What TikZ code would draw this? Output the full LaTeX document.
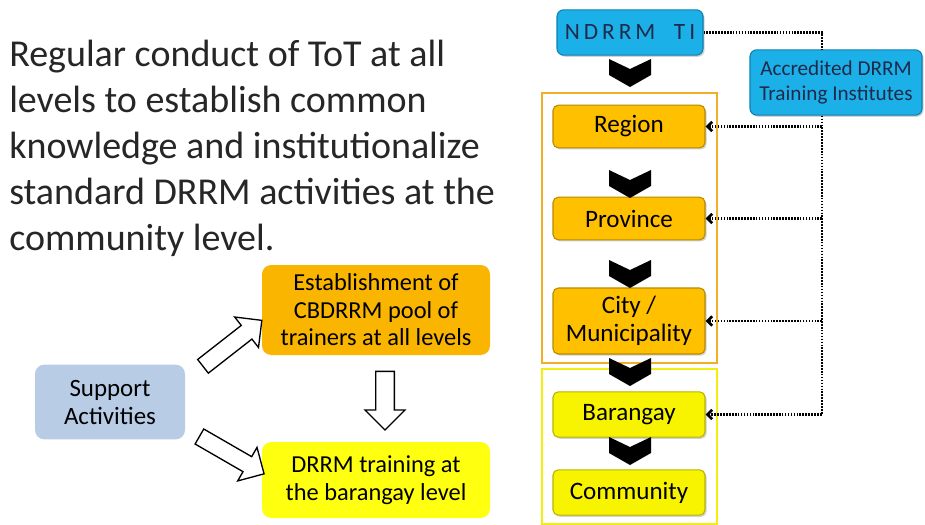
\documentclass[tikz,border=0pt]{standalone}
\usepackage{fontspec}
\setmainfont{Carlito}
\usetikzlibrary{shapes.arrows,arrows.meta,shadows,calc}
\definecolor{tblue}{HTML}{1CB0E8}
\definecolor{tblueD}{HTML}{0E7FAE}
\definecolor{navy}{HTML}{1F2A4A}
\definecolor{lorange}{HTML}{FFC000}
\definecolor{lorangeD}{HTML}{B88A00}
\definecolor{estorange}{HTML}{F9B500}
\definecolor{lyellow}{HTML}{F8F400}
\definecolor{lyellowD}{HTML}{B8B400}
\definecolor{tyellow}{HTML}{FFFF10}
\definecolor{supblue}{HTML}{B8CCE6}
\definecolor{frameO}{HTML}{F2B02A}
\definecolor{frameY}{HTML}{F2EE10}
\definecolor{txt}{HTML}{262626}
\tikzset{
  lvl/.style={draw=lorangeD, line width=0.8pt, fill=lorange, rounded corners=4pt,
    minimum width=114pt, align=center, font=\fontsize{18.8}{21}\selectfont, text=black,
    drop shadow={shadow xshift=1.2pt, shadow yshift=-1.2pt, opacity=0.35}},
  lvly/.style={lvl, draw=lyellowD, fill=lyellow},
  bluebox/.style={draw=tblueD, line width=0.8pt, fill=tblue, rounded corners=5pt, align=center,
    text=navy, drop shadow={shadow xshift=1.2pt, shadow yshift=-1.2pt, opacity=0.35}},
  sbox/.style={rounded corners=7pt, align=center, text=black, font=\fontsize{18.3}{20.6}\selectfont},
  barrow/.style={single arrow, draw=black, line width=1pt, fill=white,
    single arrow head extend=8pt, inner sep=0pt},
  dotline/.style={line width=2pt, dash pattern=on 1.2pt off 1pt, draw=black},
  chev/.pic={\fill[black] (-21,0) -- (0,10) -- (21,0) -- (21,16) -- (0,28) -- (-21,16) -- cycle;}
}
\begin{document}
\begin{tikzpicture}[x=0.75pt,y=-0.75pt]
\useasboundingbox (0,0) rectangle (925,525);
\fill[white] (0,0) rectangle (925,525);

% left text
\node[anchor=north west, inner sep=0pt, align=left, text=txt,
  font=\fontsize{28.5}{34.4}\selectfont] (intro) at (9,40)
  {Regular conduct of ToT at all\\levels to establish common\\knowledge and institutionalize\\standard DRRM activities at the\\community level.};

% frames
\draw[frameO, line width=1.3pt] (542,93) rectangle (717,363);
\draw[frameY, line width=1.3pt] (542,369) rectangle (717,524);

% level boxes
\node[bluebox, minimum width=109.5pt, minimum height=34pt,
  font=\fontsize{17.5}{20}\selectfont\addfontfeature{LetterSpace=17}] (nd) at (630,32.5) {NDRRM\ \ TI};
\node[lvl, minimum height=32pt] (reg) at (629,126.5) {Region};
\node[lvl, minimum height=32pt] (prov) at (629,218.5) {Province};
\node[lvl, minimum height=49.5pt] (city) at (629,321) {City /\\Municipality};
\node[lvly, minimum height=34pt] (bar) at (629,414.5) {Barangay};
\node[lvly, minimum height=34pt] (com) at (629,492.5) {Community};

% chevrons
\pic at (630,59) {chev};
\pic at (630,170) {chev};
\pic at (630,260) {chev};
\pic at (630,358) {chev};
\pic at (630,437) {chev};

% accredited
\node[bluebox, minimum width=129pt, minimum height=49pt,
  font=\fontsize{15.9}{19}\selectfont] (acc) at (836,82.5) {Accredited DRRM\\Training Institutes};

% dotted connectors
\coordinate (bx) at (822,0);
\draw[dotline] (nd.east) -| (bx |- acc.north);
\draw[dotline, -{Straight Barb[length=3.5pt,width=7pt]}] (bx |- acc.south) |- (bar.east);
\draw[dotline, -{Straight Barb[length=3.5pt,width=7pt]}] (bx |- reg.east) -- (reg.east);
\draw[dotline, -{Straight Barb[length=3.5pt,width=7pt]}] (bx |- prov.east) -- (prov.east);
\draw[dotline, -{Straight Barb[length=3.5pt,width=7pt]}] (bx |- city.east) -- (city.east);

% support activities
\node[sbox, fill=estorange, minimum width=171pt, minimum height=67.5pt] (est) at (376,310)
  {Establishment of\\CBDRRM pool of\\trainers at all levels};
\node[sbox, fill=tyellow, minimum width=171pt, minimum height=57pt] (trn) at (376,480)
  {DRRM training at\\the barangay level};
\node[sbox, fill=supblue, minimum width=112.5pt, minimum height=56pt,
  font=\fontsize{18.7}{21}\selectfont] (sup) at (110,402)
  {Support\\Activities};

% block arrows
\node[barrow, minimum height=56pt, rotate=38] (a1) at (229,346) {\rule{0pt}{12pt}};
\node[barrow, minimum height=44pt, rotate=-90] (a2) at (385,396) {\rule{0pt}{13pt}};
\node[barrow, minimum height=56pt, rotate=-30] (a3) at (228,453) {\rule{0pt}{12pt}};
\end{tikzpicture}
\end{document}
